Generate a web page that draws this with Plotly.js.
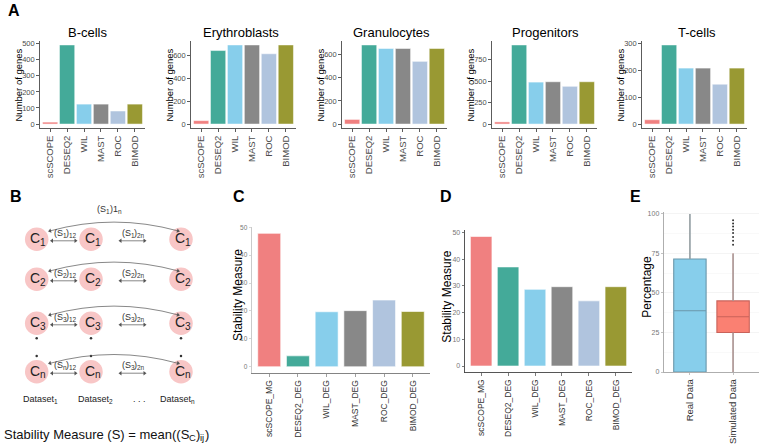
<!DOCTYPE html>
<html>
<head>
<meta charset="utf-8">
<script src="https://cdn.plot.ly/plotly-3.0.1.min.js"></script>
<style>
  html, body { margin: 0; padding: 0; background: #ffffff; }
  #fig { width: 761px; height: 448px; }
</style>
</head>
<body>
<div id="fig"></div>
<script>
// ---------- Panel A: number of marker genes per cell type and method ----------
const methods = ['scSCOPE', 'DESEQ2', 'WIL', 'MAST', 'ROC', 'BIMOD'];
const cellTypes = ['B-cells', 'Erythroblasts', 'Granulocytes', 'Progenitors', 'T-cells'];
const bCells        = [12, 492, 124, 124, 81, 124];
const erythroblasts = [30, 643, 692, 692, 615, 692];
const granulocytes  = [40, 685, 654, 654, 543, 654];
const progenitors   = [25, 922, 489, 493, 440, 493];
const tCells        = [16, 294, 208, 208, 148, 208];
const geneTicksB   = [0, 100, 200, 300, 400, 500];
const geneTicksE   = [0, 200, 400, 600];
const geneTicksG   = [0, 200, 400, 600];
const geneTicksP   = [0, 250, 500, 750];
const geneTicksT   = [0, 100, 200, 300];

// ---------- Panels C and D: stability measure per method ----------
const stabilityMethods = ['scSCOPE_MG', 'DESEQ2_DEG', 'WIL_DEG', 'MAST_DEG', 'ROC_DEG', 'BIMOD_DEG'];
const stabilityC = [47.8, 3.9, 19.7, 20.1, 23.9, 19.8];
const stabilityD = [48.5, 37.1, 28.7, 29.7, 24.4, 29.7];
const stabilityTicks = [0, 10, 20, 30, 40, 50];

// ---------- Panel E: percentage, real vs simulated data ----------
const dataSources   = ['Real Data', 'Simulated Data'];
const pctLowerWhisk = [0, 0];
const pctQ1         = [0, 25];
const pctMedian     = [38.8, 35];
const pctQ3         = [71.5, 45];
const pctUpperWhisk = [100, 75];
const simulatedOutliers = [80.5, 83, 85.5, 88, 90, 92, 94, 96];
const percentTicks = [0, 25, 50, 75, 100];

// ---------- Panel B: stability schematic (_{...} marks a subscript) ----------
const clusterIds = ['1', '2', '3', 'n'];
const datasetIds = ['1', '2', 'n'];
const pairLabels12 = ['(S_{1})_{12}', '(S_{2})_{12}', '(S_{3})_{12}', '(S_{n})_{12}'];
const pairLabels2n = ['(S_{1})_{2n}', '(S_{2})_{2n}', '(S_{3})_{2n}', '(S_{3})_{2n}'];
const arcLabel = '(S_{1})1_{n}';
const datasetLabels = ['Dataset_{1}', 'Dataset_{2}', 'Dataset_{n}'];
const formulaText = 'Stability Measure (S) = mean((S_{C})_{ij})';

// ---------- styling ----------
const W = 761, H = 448;
const FONT = 'Liberation Sans, Arial, Helvetica, sans-serif';
const methodColors = ['#F08080', '#44AA99', '#87CEEB', '#888888', '#B0C4DE', '#999933'];
const fx = px => px / W;
const fy = py => 1 - py / H;
const axName = (kind, n) => kind + 'axis' + (n === 1 ? '' : n);
const axRef = (kind, n) => kind + (n === 1 ? '' : n);

const traces = [];
const annotations = [];
const shapes = [];
const layout = {
  width: W, height: H,
  margin: { l: 0, r: 0, t: 0, b: 0 },
  paper_bgcolor: '#ffffff', plot_bgcolor: 'rgba(0,0,0,0)',
  font: { family: FONT, color: '#000' },
  showlegend: false,
  bargap: 0,
  annotations: annotations,
  shapes: shapes
};

function label(text, x, y, opts) {
  annotations.push(Object.assign({
    text: text, x: x, y: y, xref: 'paper', yref: 'paper',
    xanchor: 'center', yanchor: 'middle', showarrow: false,
    font: { family: FONT, size: 12, color: '#000' }
  }, opts || {}));
}

// ---------- Panel A ----------
const panelA = [bCells, erythroblasts, granulocytes, progenitors, tCells];
const panelATicks = [geneTicksB, geneTicksE, geneTicksG, geneTicksP, geneTicksT];
const panelALeft = [40, 191, 342, 492, 642];
const panelATitleX = [88, 241, 391, 545, 697];
const aTop = 41, aBottom = 128, aWidth = 105;

panelA.forEach((vals, i) => {
  const n = i + 1;
  const maxV = Math.max(...vals);
  traces.push({
    type: 'bar', x: methods, y: vals, width: 0.9,
    marker: { color: methodColors, line: { color: '#ffffff', width: 0.5 } },
    xaxis: axRef('x', n), yaxis: axRef('y', n), hoverinfo: 'skip'
  });
  layout[axName('x', n)] = {
    domain: [fx(panelALeft[i]), fx(panelALeft[i] + aWidth)], anchor: axRef('y', n),
    type: 'category', range: [-0.6, 5.6],
    showline: true, linecolor: '#333', linewidth: 0.8,
    ticks: 'outside', ticklen: 3, tickwidth: 0.8, tickcolor: '#333',
    tickangle: -90, tickfont: { family: FONT, size: 9.5, color: '#4d4d4d' },
    showgrid: false, zeroline: false, fixedrange: true
  };
  layout[axName('y', n)] = {
    domain: [fy(aBottom), fy(aTop)], anchor: axRef('x', n),
    range: [-0.05 * maxV, 1.05 * maxV],
    tickmode: 'array', tickvals: panelATicks[i],
    showline: true, linecolor: '#333', linewidth: 0.8,
    ticks: 'outside', ticklen: 3, tickwidth: 0.8, tickcolor: '#333',
    tickfont: { family: FONT, size: 7.5, color: '#4d4d4d' },
    showgrid: false, zeroline: false, fixedrange: true
  };
  label(cellTypes[i], fx(panelATitleX[i]), fy(32.5), { font: { family: FONT, size: 13, color: '#000' } });
  label('Number of genes', fx(panelALeft[i] - 21.5), fy(85),
        { textangle: -90, font: { family: FONT, size: 9.5, color: '#000' } });
});

// ---------- Panels C and D ----------
function stabilityPanel(n, vals, box, axisColorY, axisColorX, tickSize) {
  const maxV = Math.max(...vals);
  traces.push({
    type: 'bar', x: stabilityMethods, y: vals, width: 0.8,
    marker: { color: methodColors, line: { color: '#ffffff', width: 0.6 } },
    xaxis: axRef('x', n), yaxis: axRef('y', n), hoverinfo: 'skip'
  });
  layout[axName('x', n)] = {
    domain: [fx(box.l), fx(box.r)], anchor: axRef('y', n),
    type: 'category', range: [-0.6, 5.6],
    showline: true, linecolor: axisColorX, linewidth: 0.9,
    ticks: 'outside', ticklen: 2.5, tickwidth: 0.7, tickcolor: axisColorX,
    tickangle: -90, tickfont: { family: FONT, size: 8.5, color: '#333' },
    showgrid: false, zeroline: false, fixedrange: true
  };
  layout[axName('y', n)] = {
    domain: [fy(box.b), fy(box.t)], anchor: axRef('x', n),
    range: [-0.05 * maxV, 1.05 * maxV],
    tickmode: 'array', tickvals: stabilityTicks,
    showline: true, linecolor: axisColorY, linewidth: 0.9,
    ticks: 'outside', ticklen: 2.5, tickwidth: 0.7, tickcolor: axisColorY,
    tickfont: { family: FONT, size: tickSize, color: '#777' },
    showgrid: false, zeroline: false, fixedrange: true
  };
}
stabilityPanel(6, stabilityC, { l: 252, r: 430, t: 226.7, b: 373.4 }, '#c4c4c4', '#777777', 6.5);
stabilityPanel(7, stabilityD, { l: 465, r: 632, t: 230, b: 372.5 }, '#444444', '#444444', 7);
label('Stability Measure', fx(238), fy(295), { textangle: -90, font: { family: FONT, size: 12, color: '#000' } });
label('Stability Measure', fx(447), fy(296.7), { textangle: -90, font: { family: FONT, size: 12, color: '#000' } });

// ---------- Panel E ----------
const boxFill = ['#87CEEB', '#FA8072'];
const boxLine = ['#6b97ab', '#c9625a'];
dataSources.forEach((src, i) => {
  traces.push({
    type: 'box', x: [src],
    q1: [pctQ1[i]], median: [pctMedian[i]], q3: [pctQ3[i]],
    lowerfence: [pctLowerWhisk[i]], upperfence: [pctUpperWhisk[i]],
    width: 0.75, whiskerwidth: 0, boxpoints: false,
    fillcolor: boxFill[i], line: { color: boxLine[i], width: 1.1 },
    xaxis: 'x8', yaxis: 'y8', hoverinfo: 'skip'
  });
});
// whiskers drawn in grey over the box whiskers
const wx = [], wy = [];
dataSources.forEach((src, i) => {
  if (pctUpperWhisk[i] > pctQ3[i]) { wx.push(src, src, null); wy.push(pctQ3[i], pctUpperWhisk[i], null); }
  if (pctQ1[i] > pctLowerWhisk[i]) { wx.push(src, src, null); wy.push(pctLowerWhisk[i], pctQ1[i], null); }
});
traces.push({
  type: 'scatter', mode: 'lines', x: wx, y: wy, connectgaps: false,
  line: { color: '#a3a3a3', width: 1.3 }, xaxis: 'x8', yaxis: 'y8', hoverinfo: 'skip'
});
traces.push({
  type: 'scatter', mode: 'markers',
  x: simulatedOutliers.map(() => dataSources[1]), y: simulatedOutliers,
  marker: { color: '#333', size: 2 }, xaxis: 'x8', yaxis: 'y8', hoverinfo: 'skip'
});
layout.xaxis8 = {
  domain: [fx(664), fx(759)], anchor: 'y8', type: 'category', range: [-0.6, 1.6],
  showline: true, linecolor: '#9a9a9a', linewidth: 0.8,
  ticks: 'outside', ticklen: 2.5, tickwidth: 0.6, tickcolor: '#9a9a9a',
  tickangle: -90, tickfont: { family: FONT, size: 9.5, color: '#333' },
  showgrid: false, zeroline: false, fixedrange: true
};
layout.yaxis8 = {
  domain: [fy(372), fy(211.6)], anchor: 'x8', range: [0, 101.5],
  tickmode: 'array', tickvals: percentTicks,
  showline: true, linecolor: '#9a9a9a', linewidth: 0.8,
  ticks: 'outside', ticklen: 2.5, tickwidth: 0.6, tickcolor: '#9a9a9a',
  tickfont: { family: FONT, size: 7, color: '#777' },
  showgrid: true, gridcolor: '#ececec', gridwidth: 0.6,
  minor: { tickmode: 'linear', tick0: 12.5, dtick: 25, showgrid: true, gridcolor: '#f4f4f4', gridwidth: 0.5 },
  zeroline: false, fixedrange: true
};
label('Percentage', fx(646.7), fy(287), { textangle: -90, font: { family: FONT, size: 12, color: '#000' } });

// ---------- Panel B: schematic (axis units are pixels of the page) ----------
layout.xaxis9 = { domain: [0, fx(250)], range: [0, 250], anchor: 'y9', visible: false, fixedrange: true };
layout.yaxis9 = { domain: [0, fy(180)], range: [448, 180], anchor: 'x9', visible: false, fixedrange: true };
const colX = [36.7, 91, 181];
const rowY = [239.3, 279.3, 323.3, 371.7];
const ARROW = '#555';

// text with subscripts: each run is its own annotation, laid out with measured widths
const measureCtx = document.createElement('canvas').getContext('2d');
function textWidth(t, size) {
  measureCtx.font = size + 'px "Liberation Sans", Arial, sans-serif';
  return measureCtx.measureText(t).width;
}
function richText(markup, x, y, size, color, anchor) {
  const parts = markup.split(/_\{([^}]*)\}/);
  const runs = [];
  parts.forEach((t, k) => { if (t) runs.push({ t: t, sub: k % 2 === 1 }); });
  runs.forEach(r => { r.size = r.sub ? size * 0.72 : size; r.w = textWidth(r.t, r.size); });
  const total = runs.reduce((s, r) => s + r.w, 0);
  let cur = anchor === 'left' ? x : x - total / 2;
  runs.forEach(r => {
    annotations.push({
      text: r.t, x: cur, y: r.sub ? y + size * 0.3 : y, xref: 'x9', yref: 'y9',
      xanchor: 'left', yanchor: 'middle', showarrow: false, borderpad: 0,
      font: { family: FONT, size: r.size, color: color }
    });
    cur += r.w;
  });
}

const cx = [], cy = [];
clusterIds.forEach((c, r) => {
  datasetIds.forEach((d, k) => {
    cx.push(colX[k]); cy.push(rowY[r]);
    richText('C_{' + c + '}', colX[k] + 0.5, rowY[r] - 1, 14, '#222');
  });
});
traces.push({
  type: 'scatter', mode: 'markers', x: cx, y: cy,
  marker: { size: 23.5, color: '#F8C6C6', line: { width: 0 } },
  xaxis: 'x9', yaxis: 'y9', hoverinfo: 'skip', cliponaxis: false
});
// vertical ellipsis between cluster 3 and cluster n
const dotX = [], dotY = [];
colX.forEach(x => { dotX.push(x, x); dotY.push(338.3, 356); });
traces.push({
  type: 'scatter', mode: 'markers', x: dotX, y: dotY,
  marker: { size: 2.5, color: '#333' }, xaxis: 'x9', yaxis: 'y9', hoverinfo: 'skip'
});

// arrow heads collected as rotated triangle markers
const headX = [], headY = [], headSym = [], headAng = [];
function head(x, y, sym, ang) { headX.push(x); headY.push(y); headSym.push(sym); headAng.push(ang); }
function doubleArrow(xa, xb, y) {
  shapes.push({ type: 'line', xref: 'x9', yref: 'y9', x0: xa + 1.5, x1: xb - 1.5, y0: y, y1: y,
                line: { color: ARROW, width: 0.7 } });
  head(xa + 1.5, y, 'triangle-left', 0);
  head(xb - 1.5, y, 'triangle-right', 0);
}

rowY.forEach((y, r) => {
  // long arc between first and last dataset
  const x0 = 48.5, x1 = 179.5, yEnd = y - 8, yCtl = y - 26;
  shapes.push({
    type: 'path', xref: 'x9', yref: 'y9',
    path: `M ${x0 + 1.5},${yEnd - 0.4} Q ${(x0 + x1) / 2},${yCtl} ${x1 - 1.5},${yEnd - 0.4}`,
    line: { color: ARROW, width: 0.7 }
  });
  head(x0 + 1.5, yEnd - 0.4, 'triangle-left', -15);
  head(x1 - 1.5, yEnd - 0.4, 'triangle-right', 15);
  // pairwise labels and arrows
  richText(pairLabels12[r], 64, y - 6.5, 9, '#333');
  doubleArrow(50.5, 77, y + 1.5);
  richText(pairLabels2n[r], 132, y - 6.5, 9, '#333');
  doubleArrow(119, 146, y + 1.5);
});
traces.push({
  type: 'scatter', mode: 'markers', x: headX, y: headY,
  marker: { symbol: headSym, angle: headAng, size: 4, color: ARROW, line: { width: 0 } },
  xaxis: 'x9', yaxis: 'y9', hoverinfo: 'skip', cliponaxis: false
});
richText(arcLabel, 108.3, 208.5, 9, '#333');
[39.3, 94.3, 176.7].forEach((x, k) => richText(datasetLabels[k], x, 399, 9, '#222'));
richText('. . .', 138.3, 399, 9, '#222');
richText(formulaText, 3, 434, 13, '#111', 'left');

// ---------- panel letters ----------
const letterFont = { family: FONT, size: 16, color: '#000', weight: 'bold' };
[['A', 14, 10], ['B', 16, 197], ['C', 239, 197], ['D', 446, 197], ['E', 635, 197]].forEach(([t, x, y]) => {
  label(t, fx(x), fy(y), { font: letterFont });
});

Plotly.newPlot('fig', traces, layout, { staticPlot: true, displayModeBar: false });
</script>
</body>
</html>
